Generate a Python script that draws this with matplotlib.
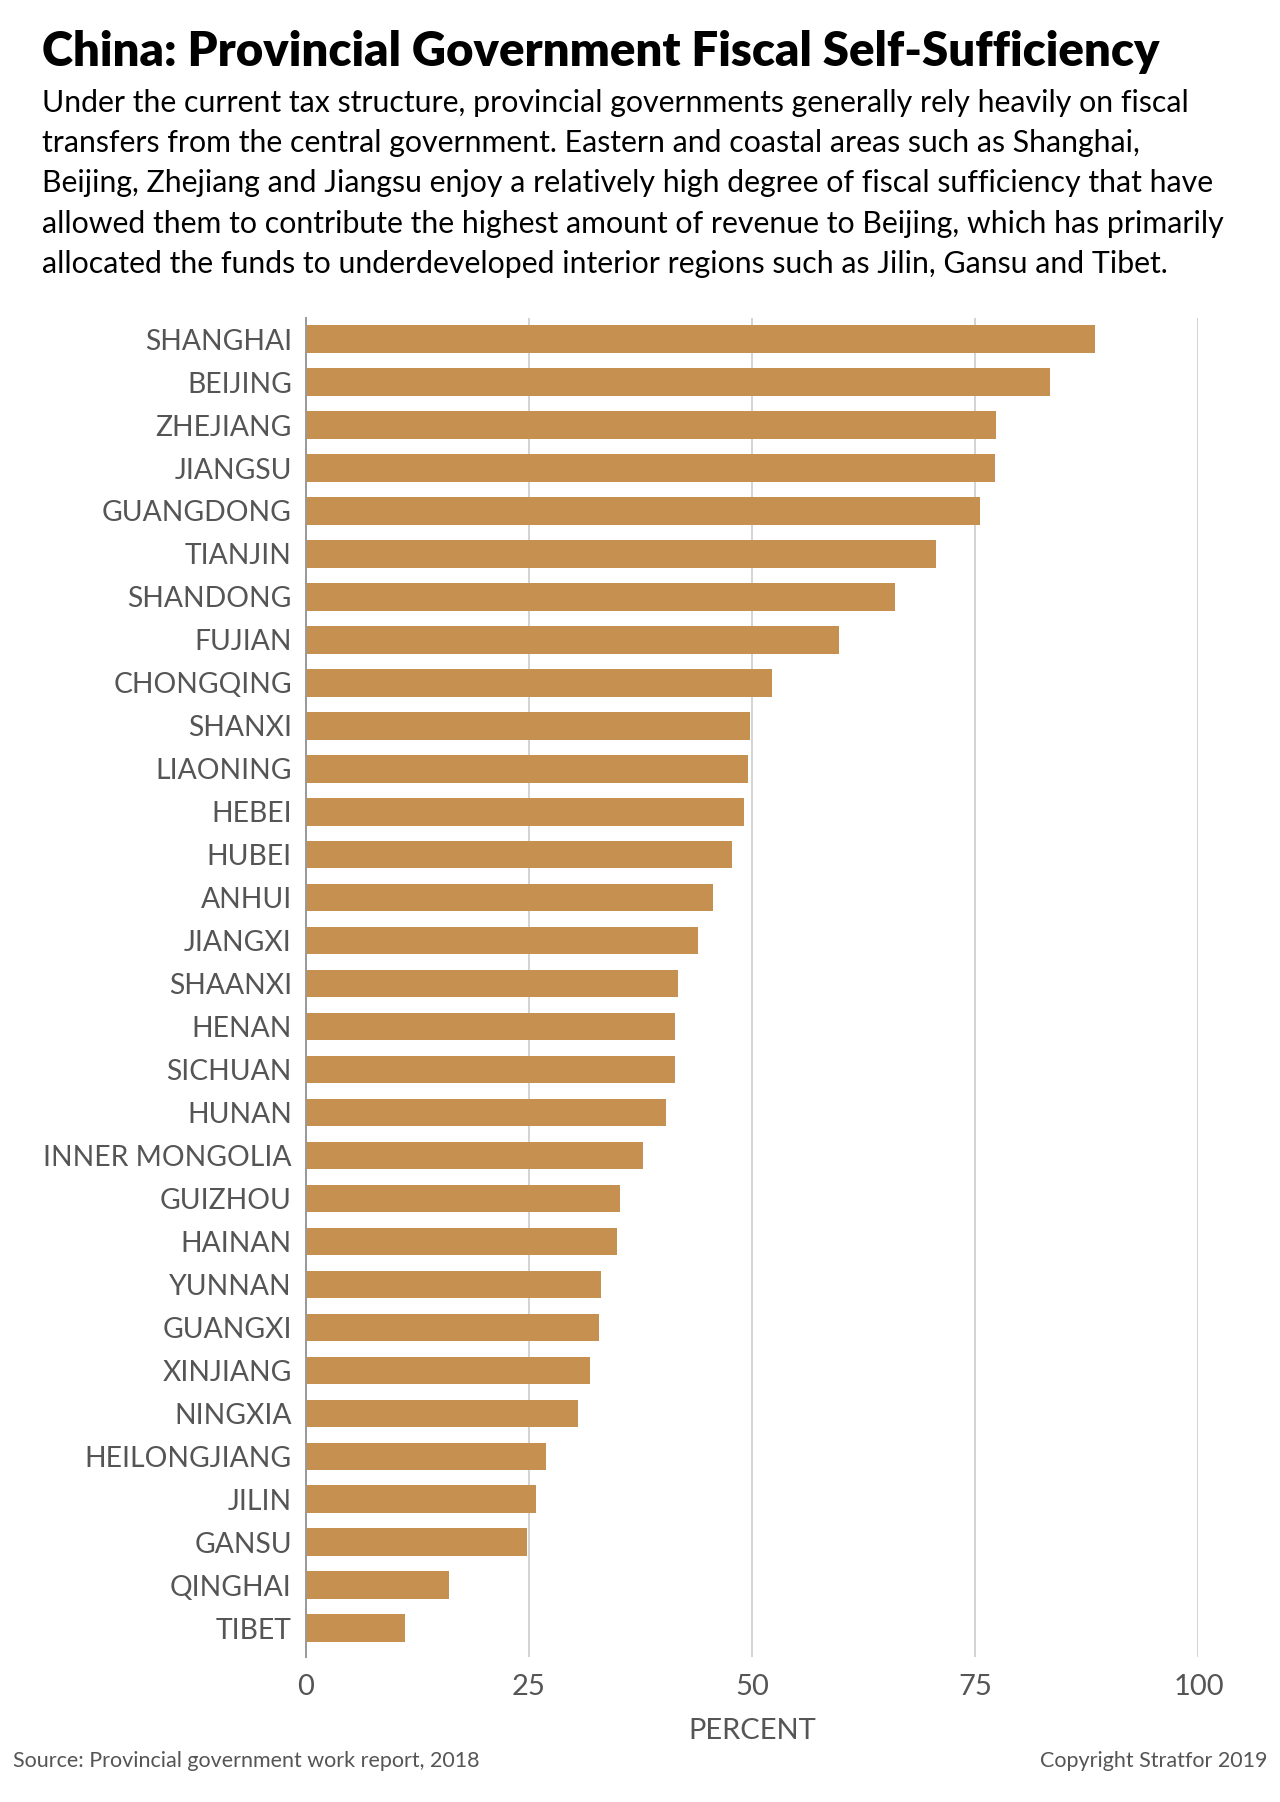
import numpy as np
import matplotlib.pyplot as plt

provinces = ["SHANGHAI", "BEIJING", "ZHEJIANG", "JIANGSU", "GUANGDONG", "TIANJIN",
             "SHANDONG", "FUJIAN", "CHONGQING", "SHANXI", "LIAONING", "HEBEI",
             "HUBEI", "ANHUI", "JIANGXI", "SHAANXI", "HENAN", "SICHUAN", "HUNAN",
             "INNER MONGOLIA", "GUIZHOU", "HAINAN", "YUNNAN", "GUANGXI", "XINJIANG",
             "NINGXIA", "HEILONGJIANG", "JILIN", "GANSU", "QINGHAI", "TIBET"]
percent = [88.4, 83.4, 77.3, 77.2, 75.5, 70.6, 66.0, 59.7, 52.2, 49.8, 49.5,
           49.1, 47.8, 45.6, 44.0, 41.7, 41.4, 41.4, 40.4, 37.8, 35.2, 34.9,
           33.1, 32.9, 31.8, 30.5, 26.9, 25.8, 24.8, 16.1, 11.1]
xticks = [0, 25, 50, 75, 100]

title = "China: Provincial Government Fiscal Self-Sufficiency"
subtitle_lines = [
    "Under the current tax structure, provincial governments generally rely heavily on fiscal",
    "transfers from the central government. Eastern and coastal areas such as Shanghai,",
    "Beijing, Zhejiang and Jiangsu enjoy a relatively high degree of fiscal sufficiency that have",
    "allowed them to contribute the highest amount of revenue to Beijing, which has primarily",
    "allocated the funds to underdeveloped interior regions such as Jilin, Gansu and Tibet.",
]

plt.rcParams['font.family'] = ['Lato', 'DejaVu Sans']

H = 1802.0
fig = plt.figure(figsize=(12.8, 18.02), dpi=100)
ax = fig.add_axes([0.2388, 0.0805, 0.6975, 0.743])

y = np.arange(len(provinces))
ax.barh(y, percent, height=0.64, color="#C69150", zorder=3)
ax.set_ylim(30.67, -0.49)
ax.set_xlim(0, 100)
ax.set_yticks(y)
ax.set_yticklabels(provinces, fontsize=20.3, color="#555555")
ax.set_xticks(xticks)
ax.set_xticklabels([str(t) for t in xticks], fontsize=21, color="#555555")
ax.tick_params(length=0)
ax.tick_params(axis='y', pad=10)
ax.tick_params(axis='x', pad=12)
ax.grid(axis='x', color="#cccccc", linewidth=1.2, zorder=0)
for s in ['top', 'right', 'bottom']:
    ax.spines[s].set_visible(False)
ax.spines['left'].set_color("#999999")
ax.spines['left'].set_linewidth(1.4)
ax.spines['left'].set_zorder(4)
ax.set_xlabel("PERCENT", fontsize=21, color="#555555", labelpad=13)

fig.text(0.033, 1 - 52 / H, title,
         fontsize=34, fontweight='heavy', color="black", va='center', ha='left')
for i, line in enumerate(subtitle_lines):
    fig.text(0.033, 1 - (103 + 40.2 * i) / H, line, fontsize=21.8, color="black",
             va='center', ha='left')

fig.text(0.010, 0.0225, "Source: Provincial government work report, 2018",
         fontsize=15.5, color="#555555", va='center', ha='left')
fig.text(0.990, 0.0225, "Copyright Stratfor 2019",
         fontsize=15.5, color="#555555", va='center', ha='right')

fig.savefig("out.png", dpi=100, facecolor="white")
